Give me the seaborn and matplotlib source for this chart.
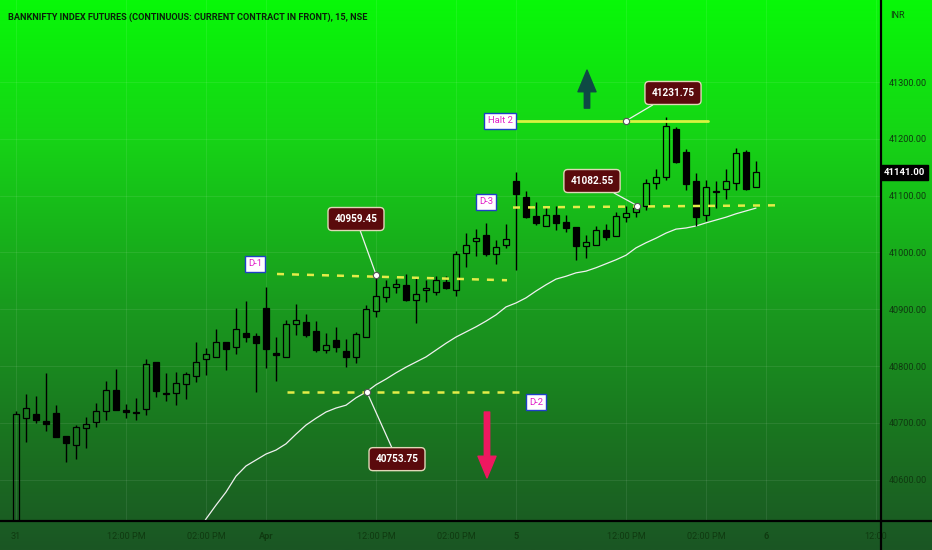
import numpy as np
import pandas as pd
import matplotlib
matplotlib.use("Agg")
import matplotlib.pyplot as plt
import matplotlib.transforms as mtransforms
from matplotlib.colors import LinearSegmentedColormap
import seaborn as sns

# 15 min candles, 31 Mar / 3 Apr / 5 Apr
opens = [40470, 40708.5, 40715.5, 40703.2, 40717.3, 40676.8, 40660.9, 40690.8, 40701.4, 40720.8,
         40757.8, 40722.6, 40719.0, 40724.3, 40807.1, 40752.5, 40752.5, 40768.3, 40782.4, 40812.3,
         40815.9, 40842.2, 40833.4, 40858.1, 40852.8,
         40902.1, 40822.9, 40815.9, 40874.0, 40877.5, 40861.6, 40828.2, 40845.8, 40826.4, 40815.9,
         40851.1, 40896.8, 40921.5, 40939.1, 40942.6, 40916.2, 40933.8, 40930.3, 40947.9, 40933.8,
         40999.0, 41020.1, 41030.7, 40997.2, 41013.0,
         41125.7, 41097.6, 41064.1, 41046.5, 41065.9, 41053.6, 41044.8, 41011.3, 41013.0, 41039.5,
         41028.9, 41062.4, 41071.1, 41081.7, 41122.2, 41132.8, 41217.6, 41176.8, 41125.7, 41065.9,
         41106.4, 41111.6, 41122.2, 41176.8, 41115.1]
highs = [40720.8, 40750.7, 40747.2, 40787.7, 40731.3, 40676.8, 40696.1, 40710.2, 40734.9, 40773.6,
         40794.7, 40733.1, 40743.7, 40812.3, 40807.1, 40787.7, 40789.5, 40789.5, 40842.2, 40831.7,
         40865.2, 40842.2, 40902.1, 40914.5, 40858.1,
         40939.1, 40851.1, 40881.0, 40909.2, 40891.6, 40879.2, 40858.1, 40868.7, 40847.5, 40859.9,
         40907.4, 40959.45, 40951.4, 40953.2, 40962.0, 40955.0, 40951.4, 40958.5, 40958.5, 41002.5,
         41034.2, 41041.2, 41051.8, 41021.8, 41050.0,
         41141.6, 41108.1, 41088.8, 41081.7, 41081.7, 41065.9, 41044.8, 41030.7, 41046.5, 41050.0,
         41071.1, 41081.7, 41082.55, 41129.2, 41146.9, 41238.0, 41221.1, 41182.0, 41139.8, 41127.5,
         41125.7, 41146.9, 41183.8, 41180.3, 41160.9]
lows = [40455, 40666.2, 40699.7, 40685.6, 40675.0, 40631.0, 40636.3, 40655.6, 40692.6, 40704.9,
        40722.6, 40708.5, 40704.9, 40713.7, 40745.5, 40738.4, 40731.3, 40741.9, 40771.9, 40784.2,
        40815.9, 40793.0, 40821.1, 40842.2, 40754.3,
        40796.5, 40773.6, 40815.9, 40854.6, 40851.1, 40824.7, 40822.9, 40824.7, 40798.3, 40805.3,
        40851.1, 40886.3, 40912.7, 40928.5, 40914.5, 40875.7, 40912.7, 40925.0, 40935.6, 40923.3,
        40974.3, 40993.7, 40993.7, 40979.6, 41007.8,
        40969.0, 41060.6, 41048.3, 41046.5, 41039.5, 41035.9, 40986.6, 40990.2, 41013.0, 41021.8,
        41028.9, 41053.6, 41062.4, 41074.6, 41111.6, 41127.5, 41157.8, 41109.9, 41046.5, 41055.3,
        41078.1, 41094.0, 41109.9, 41109.9, 41115.1]
closes = [40715.5, 40726.1, 40704.9, 40697.9, 40675.0, 40664.4, 40692.6, 40697.9, 40720.8, 40757.8,
          40722.6, 40719.0, 40718.1, 40803.6, 40756.0, 40750.7, 40770.1, 40785.9, 40807.1, 40821.1,
          40842.2, 40829.9, 40865.2, 40851.1, 40840.5,
          40829.9, 40819.4, 40874.0, 40881.0, 40854.6, 40828.2, 40837.0, 40833.4, 40815.9, 40856.4,
          40900.4, 40923.3, 40939.1, 40944.4, 40916.2, 40926.8, 40937.3, 40951.4, 40937.3, 40997.2,
          41013.0, 41025.4, 40997.2, 41009.5, 41023.6,
          41102.8, 41062.6, 41051.8, 41065.9, 41051.8, 41043.0, 41011.3, 41018.3, 41039.5, 41027.1,
          41064.1, 41069.4, 41079.9, 41122.2, 41132.8, 41222.6, 41159.5, 41120.4, 41062.4, 41115.1,
          41108.1, 41125.7, 41175.0, 41111.6, 41141.0]
# moving average (white line), starts below the visible range
ma = [np.nan] * 18 + [40502, 40530.7, 40555, 40578, 40606, 40624, 40634.5, 40645, 40652, 40663,
                      40680, 40696, 40708, 40719, 40726, 40731, 40744, 40754, 40767, 40777,
                      40788, 40798, 40807, 40816, 40828, 40840, 40851, 40860, 40869, 40879,
                      40890, 40904, 40911, 40920, 40932, 40943, 40953, 40958, 40964, 40967,
                      40973, 40980, 40987, 40995, 41008, 41017, 41025, 41034, 41041, 41043,
                      41046.5, 41052, 41057, 41062, 41068, 41073, 41078]

time_ticks = [0, 11, 19, 25, 36, 44, 50, 61, 69, 75, 86]
time_labels = ['31', '12:00 PM', '02:00 PM', 'Apr', '12:00 PM', '02:00 PM', '5',
               '12:00 PM', '02:00 PM', '6', '12:00']
price_ticks = [40600, 40700, 40800, 40900, 41000, 41100, 41200, 41300]

# drawn levels: start bar, end bar, start price, end price
level_d1 = [26.1, 49.1, 40962, 40951]
level_d2 = [27.1, 50.6, 40754, 40754]
level_d3 = [49.7, 76.7, 41079, 41083]
level_halt2 = [49.9, 69.2, 41231.75, 41231.75]

callouts = ['40959.45', '41231.75', '41082.55', '40753.75']
callout_points = [(36.0, 40961.0), (61.0, 41231.75), (62.1, 41082.55), (35.1, 40753.75)]
callout_boxes = [(34.0, 41058.8), (65.7, 41280.7), (57.6, 41125.7), (38.1, 40636.0)]

last_price = 41141.00

sns.set_style("white")
plt.rcParams['font.family'] = ['Roboto', 'DejaVu Sans']
txt_col = '#0f3a10'

fig = plt.figure(figsize=(9.32, 5.5), dpi=100)

# background gradient (whole figure, incl. the axis strips)
bg = fig.add_axes([0, 0, 1, 1], zorder=-5)
cmap = LinearSegmentedColormap.from_list(
    'bg', [(0.0, (8/255, 248/255, 8/255)), (0.25, (22/255, 212/255, 22/255)),
           (0.55, (25/255, 155/255, 30/255)), (0.8, (26/255, 115/255, 32/255)),
           (1.0, (27/255, 86/255, 36/255))])
grad = np.linspace(0, 1, 256).reshape(-1, 1)
bg.imshow(grad, aspect='auto', cmap=cmap, extent=[0, 1, 0, 1], origin='upper')
bg.set_xlim(0, 1)
bg.set_ylim(0, 1)
bg.set_axis_off()

ax = fig.add_axes([0, 1 - 521 / 550, 880 / 932, 521 / 550])
ax.set_facecolor('none')
ax.set_xlim(-1.6, 86.4)
ax.set_ylim(40527.1, 41444.4)

for t in time_ticks:
    ax.axvline(t, color='white', alpha=0.08, lw=0.8, zorder=0)
for p in price_ticks:
    ax.axhline(p, color='white', alpha=0.08, lw=0.8, zorder=0)

# candles
df = pd.DataFrame({'o': opens, 'h': highs, 'l': lows, 'c': closes})
df['bar'] = np.arange(len(df))
df['top'] = df[['o', 'c']].max(axis=1)
df['bot'] = df[['o', 'c']].min(axis=1)
up = df['c'] >= df['o']
ax.vlines(df['bar'], df['top'], df['h'], color='black', lw=1, zorder=3)
ax.vlines(df['bar'], df['l'], df['bot'], color='black', lw=1, zorder=3)
ax.bar(df['bar'], (df['top'] - df['bot']).clip(lower=1.2), bottom=df['bot'], width=0.68,
       color=np.where(up, 'none', 'black'), edgecolor='black', linewidth=0.9, zorder=4)

ma_df = pd.DataFrame({'bar': np.arange(len(ma)), 'ma': ma})
sns.lineplot(data=ma_df, x='bar', y='ma', color='#f0f0f0', lw=0.9, ax=ax, zorder=2)

# levels
dash = (0, (2.8, 3.2))
for lv in (level_d1, level_d2, level_d3):
    ax.plot(lv[:2], lv[2:], color='#e4ec48', lw=1.8, linestyle=dash, zorder=5)
ax.plot(level_halt2[:2], level_halt2[2:], color='#d8f440', lw=2, zorder=5)

tag_style = dict(fontsize=6.8, color='#e020c8', ha='center', va='center', zorder=8,
                 bbox=dict(boxstyle='square,pad=0.35', fc='white', ec='#1f3fc8', lw=1))
ax.text(23.9, 40979.6, 'D-1', **tag_style)
ax.text(52.0, 40736.6, 'D-2', **tag_style)
ax.text(47.0, 41088.8, 'D-3', **tag_style)
ax.text(48.4, 41231.4, 'Halt 2', **tag_style)

for txt, pt, box in zip(callouts, callout_points, callout_boxes):
    ax.annotate(txt, xy=pt, xytext=box, ha='center', va='center', fontsize=7.2,
                fontweight='bold', color='white', zorder=9,
                bbox=dict(boxstyle='round,pad=0.65,rounding_size=0.4', fc='#5a0a0c',
                          ec='#e0d8b8', lw=1),
                arrowprops=dict(arrowstyle='-', color='#f0f0f0', lw=0.9, shrinkA=0, shrinkB=0))
    ax.plot(*pt, marker='o', ms=4.5, mfc='white', mec='#555555', mew=0.8, zorder=10)

ax.annotate('', xy=(57.1, 41321), xytext=(57.1, 41254),
            arrowprops=dict(arrowstyle='simple,head_length=1.2,head_width=1.0,tail_width=0.3',
                            fc='#0e4a44', ec='#0e4a44', mutation_scale=13, shrinkA=0, shrinkB=0),
            zorder=7)
ax.annotate('', xy=(47.1, 40603), xytext=(47.1, 40719),
            arrowprops=dict(arrowstyle='simple,head_length=1.2,head_width=1.0,tail_width=0.3',
                            fc='#ee1860', ec='#ee1860', mutation_scale=13, shrinkA=0, shrinkB=0),
            zorder=7)

# axes
ax.set_xticks(time_ticks)
ax.set_xticklabels(time_labels)
for lab in ax.get_xticklabels():
    if lab.get_text() in ('Apr', '5', '6'):
        lab.set_fontweight('bold')
ax.set_yticks(price_ticks)
ax.set_yticklabels([f'{p:.2f}' for p in price_ticks])
ax.yaxis.tick_right()
ax.tick_params(axis='y', length=0, pad=6, labelsize=6.6, labelcolor=txt_col)
ax.tick_params(axis='x', length=0, pad=8, labelsize=6.6, labelcolor=txt_col)
ax.set_xlabel('')
ax.set_ylabel('')
for s in ax.spines.values():
    s.set_visible(False)

# pane borders: bottom one spans full width, right one full height
frame = dict(color='black', lw=1.6, zorder=30)
fig.add_artist(plt.Line2D([0, 1], [1 - 521 / 550] * 2, transform=fig.transFigure, **frame))
fig.add_artist(plt.Line2D([881 / 932] * 2, [0, 1], transform=fig.transFigure, **frame))

trans = mtransforms.blended_transform_factory(ax.transAxes, ax.transData)
ax.text(1.004, last_price, f'{last_price:.2f}', transform=trans, ha='left', va='center',
        fontsize=6.8, fontweight='bold', color='white', zorder=10, clip_on=False,
        bbox=dict(boxstyle='square,pad=0.3', fc='black', ec='black'))

fig.text(890 / 932, 1 - 15 / 550, 'INR', fontsize=6.6, color=txt_col, va='center')
fig.text(8 / 932, 1 - 17 / 550,
         'BANKNIFTY INDEX FUTURES (CONTINUOUS: CURRENT CONTRACT IN FRONT), 15, NSE',
         fontsize=6.6, fontweight='bold', color='#0a200a', va='center')

fig.savefig('out.png', dpi=100)
